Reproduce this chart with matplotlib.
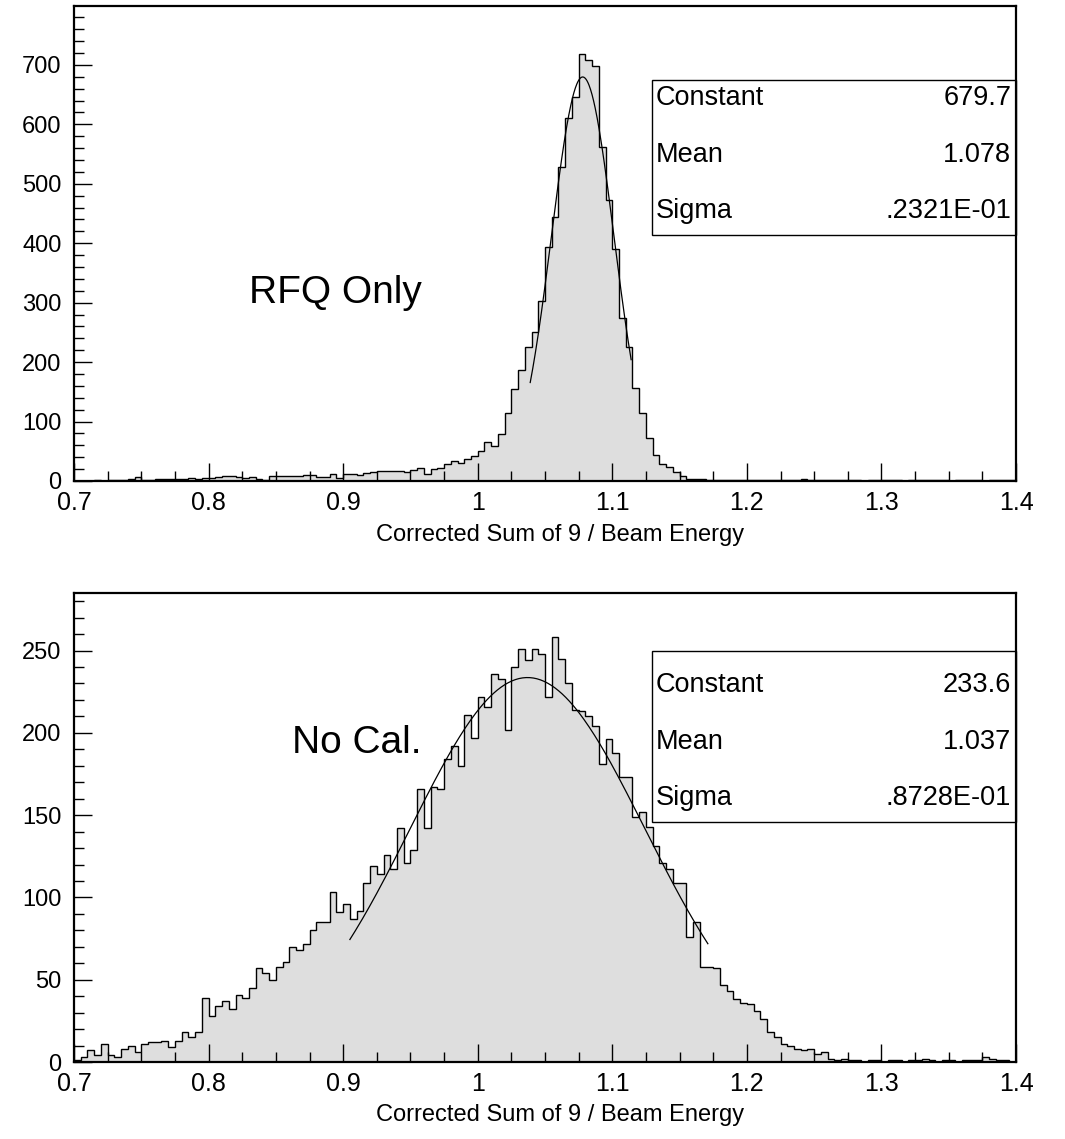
import numpy as np
import matplotlib
matplotlib.use('Agg')
import matplotlib.pyplot as plt
import matplotlib.ticker as ticker
from matplotlib.patches import Rectangle

plt.rcParams['font.family'] = ['Liberation Sans', 'DejaVu Sans']

# bin edges: 140 bins of 0.005 from 0.7 to 1.4
edges = np.round(np.linspace(0.7, 1.4, 141), 3)

# RFQ Only (counts per bin, rows of 10 bins)
counts_rfq = [
    0, 0, 0, 1, 0, 1, 2, 1, 3, 7,            # 0.700
    2, 1, 3, 3, 3, 3, 4, 5, 4, 5,            # 0.750
    5, 6, 8, 9, 7, 5, 7, 4, 2, 9,            # 0.800
    8, 8, 9, 9, 10, 10, 6, 7, 11, 5,         # 0.850
    11, 12, 10, 14, 15, 16, 16, 17, 17, 15,  # 0.900
    18, 22, 12, 21, 22, 29, 33, 31, 37, 42,  # 0.950
    50, 65, 59, 79, 115, 154, 187, 225, 250, 303,   # 1.000
    393, 444, 528, 610, 646, 719, 709, 698, 562, 472,  # 1.050
    390, 275, 225, 156, 114, 73, 44, 29, 24, 15,     # 1.100
    8, 4, 3, 3, 2, 1, 1, 2, 1, 1,            # 1.150
    1, 2, 1, 1, 1, 1, 2, 1, 3, 1,            # 1.200
    2, 1, 1, 1, 1, 2, 1, 0, 1, 1,            # 1.250
    1, 1, 1, 0, 1, 1, 1, 1, 1, 1,            # 1.300
    0, 1, 1, 1, 1, 0, 1, 1, 1, 1,            # 1.350
]

# No Cal.
counts_nocal = [
    1, 3, 7, 4, 11, 4, 3, 8, 10, 6,               # 0.700
    11, 12, 12, 13, 9, 13, 18, 15, 18, 39,        # 0.750
    28, 34, 37, 32, 41, 39, 45, 57, 54, 50,       # 0.800
    58, 61, 70, 68, 72, 80, 85, 85, 103, 91,      # 0.850
    96, 87, 92, 109, 119, 114, 126, 117, 142, 121,  # 0.900
    129, 166, 142, 167, 166, 184, 192, 180, 211, 197,  # 0.950
    222, 216, 236, 233, 202, 240, 251, 244, 251, 248,  # 1.000
    222, 258, 245, 230, 214, 213, 210, 204, 181, 196,  # 1.050
    188, 173, 173, 149, 152, 143, 131, 121, 117, 109,  # 1.100
    109, 76, 85, 58, 58, 57, 47, 43, 38, 36,      # 1.150
    35, 31, 26, 18, 15, 11, 10, 8, 7, 8,          # 1.200
    5, 6, 2, 1, 2, 1, 1, 0, 1, 1,                 # 1.250
    0, 1, 1, 0, 1, 1, 2, 1, 0, 1,                 # 1.300
    1, 0, 1, 1, 1, 3, 2, 1, 1, 0,                 # 1.350
]

# gaussian fit results shown in the stat boxes
fit_rfq = dict(constant=679.7, mean=1.078, sigma=0.02321, lo=1.039, hi=1.114)
fit_nocal = dict(constant=233.6, mean=1.037, sigma=0.08728, lo=0.905, hi=1.171)
stat_rfq = ['679.7', '1.078', '.2321E-01']
stat_nocal = ['233.6', '1.037', '.8728E-01']
stat_names = ['Constant', 'Mean', 'Sigma']

xlabel = 'Corrected Sum of 9 / Beam Energy'


def draw_panel(ax, counts, fit, stats, label, label_pos, ymax, ymajor, yminor, box):
    ax.stairs(counts, edges, fill=True, color='#dedede', lw=0)
    ax.stairs(counts, edges, color='black', lw=1.0)

    xf = np.linspace(fit['lo'], fit['hi'], 200)
    yf = fit['constant'] * np.exp(-0.5 * ((xf - fit['mean']) / fit['sigma'])**2)
    ax.plot(xf, yf, color='black', lw=0.9)

    ax.set_xlim(0.7, 1.4)
    ax.set_ylim(0, ymax)
    ax.xaxis.set_major_locator(ticker.MultipleLocator(0.1))
    ax.xaxis.set_minor_locator(ticker.MultipleLocator(0.025))
    ax.yaxis.set_major_locator(ticker.MultipleLocator(ymajor))
    ax.yaxis.set_minor_locator(ticker.MultipleLocator(yminor))
    ax.xaxis.set_major_formatter(ticker.FuncFormatter(lambda v, p: '{0:g}'.format(round(v, 3))))
    ax.tick_params(which='both', direction='in', top=False, right=False, width=1)
    ax.tick_params(which='major', length=13)
    ax.tick_params(which='minor', length=7)
    ax.tick_params(axis='x', pad=7, labelsize=18)
    ax.tick_params(axis='y', pad=9, labelsize=17)
    for s in ax.spines.values():
        s.set_linewidth(1.6)
    ax.set_xlabel(xlabel, fontsize=17, labelpad=9)
    ax.xaxis.set_label_coords(0.516, -0.09)

    ax.text(label_pos[0], label_pos[1], label, transform=ax.transAxes,
            fontsize=28, ha='center', va='center')

    x0, y0, y1, rows = box
    ax.add_patch(Rectangle((x0, y0), 1.0 - x0, y1 - y0, transform=ax.transAxes,
                           fill=False, edgecolor='black', lw=1.0, clip_on=False))
    for name, val, yr in zip(stat_names, stats, rows):
        ax.text(x0 + 0.004, yr, name, transform=ax.transAxes, fontsize=19.5,
                ha='left', va='center')
        ax.text(0.995, yr, val, transform=ax.transAxes, fontsize=19.5,
                ha='right', va='center')


fig = plt.figure(figsize=(10.65, 11.39), dpi=100)
ax_top = fig.add_axes([0.0695, 0.5777, 0.8845, 0.4170])
ax_bot = fig.add_axes([0.0695, 0.0676, 0.8845, 0.4118])

draw_panel(ax_top, counts_rfq, fit_rfq, stat_rfq, 'RFQ Only', (0.277, 0.396),
           799, 100, 20, (0.6136, 0.518, 0.844, [0.806, 0.686, 0.568]))
draw_panel(ax_bot, counts_nocal, fit_nocal, stat_nocal, 'No Cal.', (0.300, 0.680),
           285, 50, 10, (0.6136, 0.512, 0.876, [0.804, 0.682, 0.563]))

fig.savefig('out.png', dpi=100)
